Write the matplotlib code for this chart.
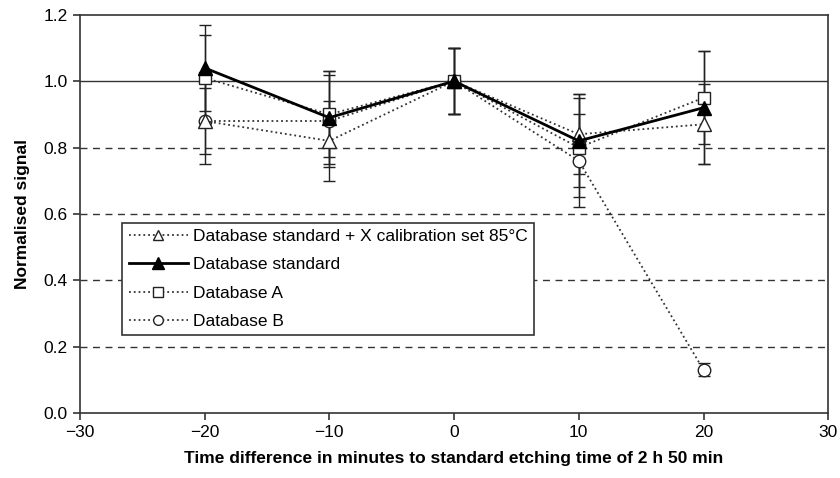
import numpy as np
import matplotlib
matplotlib.use("Agg")
import matplotlib.pyplot as plt
from matplotlib.lines import Line2D

plt.rcParams['font.family'] = ['Liberation Sans', 'DejaVu Sans']

x = [-20, -10, 0, 10, 20]

# series values (normalised signal) and error bar half-widths
std_x_cal = [0.88, 0.82, 1.00, 0.84, 0.87]
std_x_cal_err = [0.10, 0.12, 0.10, 0.12, 0.12]
std = [1.04, 0.89, 1.00, 0.82, 0.92]
std_err = [0.13, 0.14, 0.10, 0.14, 0.17]
db_a = [1.01, 0.90, 1.00, 0.80, 0.95]
db_a_err = [0.13, 0.13, 0.10, 0.15, 0.14]
db_b = [0.88, 0.88, 1.00, 0.76, 0.13]
db_b_err = [0.13, 0.14, 0.10, 0.14, 0.02]

labels = ['Database standard + X calibration set 85\u00b0C', 'Database standard',
          'Database A', 'Database B']

fig = plt.figure(figsize=(8.4, 4.78), dpi=100)
ax = fig.add_axes([0.095, 0.136, 0.891, 0.833])

# gridlines
for yv in [0.2, 0.4, 0.6, 0.8]:
    ax.axhline(yv, color='#333333', linestyle=(0, (5, 4)), linewidth=1.0, zorder=0)
ax.axhline(1.0, color='#333333', linestyle='-', linewidth=1.0, zorder=0)

ekw = dict(ecolor='#222222', elinewidth=1.0, capsize=4, capthick=1.0)
dotted = dict(color='#333333', linestyle=':', linewidth=1.3,
              markerfacecolor='white', markeredgecolor='#222222')

ax.errorbar(x, db_b, yerr=db_b_err, marker='o', markersize=9, **dotted, **ekw)
ax.errorbar(x, db_a, yerr=db_a_err, marker='s', markersize=9, **dotted, **ekw)
ax.errorbar(x, std_x_cal, yerr=std_x_cal_err, marker='^', markersize=10, **dotted, **ekw)
ax.errorbar(x, std, yerr=std_err, color='black', linestyle='-', linewidth=2.0,
            marker='^', markersize=10, markerfacecolor='black', markeredgecolor='black', **ekw)

ax.set_xlim(-30, 30)
ax.set_ylim(0, 1.2)
ax.set_xticks(range(-30, 31, 10))
ax.set_xticklabels(['\u221230', '\u221220', '\u221210', '0', '10', '20', '30'])
ax.set_yticks(np.arange(0, 1.21, 0.2))
ax.set_yticklabels([f'{v:.1f}' for v in np.arange(0, 1.21, 0.2)])
ax.tick_params(labelsize=12.5, direction='out', length=5, width=1.2, color='#333333')
for s in ax.spines.values():
    s.set_linewidth(1.2)
    s.set_color('#333333')

ax.set_xlabel('Time difference in minutes to standard etching time of 2 h 50 min',
              fontsize=12.5, fontweight='bold', labelpad=8)
ax.set_ylabel('Normalised signal', fontsize=12.5, fontweight='bold', labelpad=10)

# legend proxies without error bars
handles = [
    Line2D([], [], marker='^', markersize=7, **dotted),
    Line2D([], [], color='black', linestyle='-', linewidth=2.0, marker='^', markersize=8,
           markerfacecolor='black', markeredgecolor='black'),
    Line2D([], [], marker='s', markersize=7, **dotted),
    Line2D([], [], marker='o', markersize=7, **dotted),
]
leg = ax.legend(handles, labels, loc='upper left', bbox_to_anchor=(0.057, 0.477),
                fontsize=12.5, frameon=True, fancybox=False, edgecolor='#333333',
                framealpha=1, handlelength=3.4, handletextpad=0.3, borderpad=0.35,
                labelspacing=0.75, borderaxespad=0)
leg.get_frame().set_linewidth(1.2)

fig.savefig('out.png', dpi=100)
